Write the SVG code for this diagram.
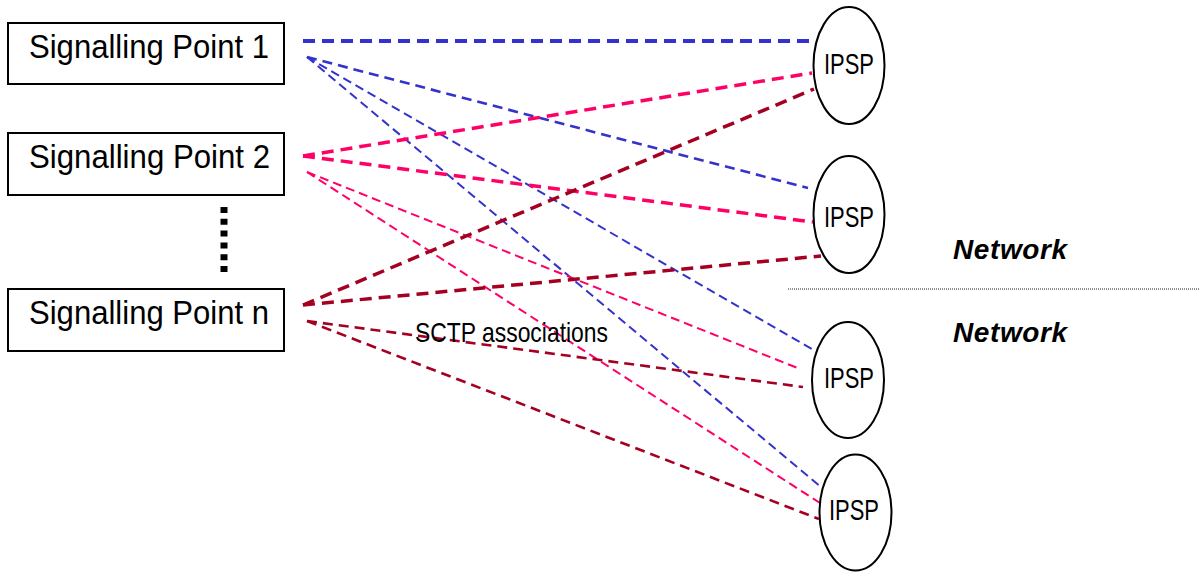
<svg xmlns="http://www.w3.org/2000/svg" width="1199" height="572" viewBox="0 0 1199 572">
<style>
.box{fill:#fff;stroke:#000;stroke-width:2}
.ell{fill:#fff;stroke:#000;stroke-width:2}
.lbl{font-family:"Liberation Sans",Arial,sans-serif;fill:#000}
.sp{font-size:33px}
.ip{font-size:29px}
.net{font-family:"Liberation Sans",Arial,sans-serif;font-size:28px;font-weight:bold;font-style:italic;letter-spacing:0.6px}
.c{fill:none}
.blue{stroke:#3333cc}
.pink{stroke:#ff0066}
.dred{stroke:#a50021}
.thick{stroke-width:3.5;stroke-dasharray:12 7}
.mid{stroke-width:2.6;stroke-dasharray:10 6}
.thin{stroke-width:2;stroke-dasharray:9 5}
</style>
<rect width="1199" height="572" fill="#fff"/>
<g id="connectors">
<line class="c blue thick" x1="303" y1="41" x2="814" y2="41" style="stroke-width:4"/>
<line class="c blue mid" x1="307" y1="57" x2="808" y2="188"/>
<line class="c blue thin" x1="307" y1="57" x2="817" y2="352"/>
<line class="c blue thin" x1="307" y1="57" x2="821" y2="487"/>
<line class="c pink thick" x1="303" y1="156" x2="812" y2="73"/>
<line class="c pink thick" x1="303" y1="156" x2="813" y2="222"/>
<line class="c pink thin" x1="307" y1="172" x2="800" y2="369"/>
<line class="c pink thin" x1="307" y1="172" x2="820" y2="503"/>
<line class="c dred thick" x1="303" y1="305" x2="814" y2="89"/>
<line class="c dred thick" x1="303" y1="305" x2="821" y2="256"/>
<line class="c dred mid" x1="307" y1="321" x2="803" y2="387"/>
<line class="c dred mid" x1="307" y1="321" x2="819" y2="519"/>
</g>
<g id="sp1">
<rect class="box" x="8" y="23" width="276" height="61"/>
<text class="lbl sp" x="29" y="57.5" textLength="240" lengthAdjust="spacingAndGlyphs">Signalling Point 1</text>
</g>
<g id="sp2">
<rect class="box" x="8" y="133" width="276" height="62"/>
<text class="lbl sp" x="29" y="167.5" textLength="241" lengthAdjust="spacingAndGlyphs">Signalling Point 2</text>
</g>
<g id="ellipsis">
<line x1="224" y1="207" x2="224" y2="272" stroke="#000" stroke-width="7" stroke-dasharray="6 5.8"/>
</g>
<g id="spn">
<rect class="box" x="8" y="289" width="276" height="62"/>
<text class="lbl sp" x="29" y="323.5" textLength="240" lengthAdjust="spacingAndGlyphs">Signalling Point n</text>
</g>
<g id="ipsp1">
<ellipse class="ell" cx="849" cy="65.5" rx="35.5" ry="58.5"/>
<text class="lbl ip" x="824" y="74" textLength="50" lengthAdjust="spacingAndGlyphs">IPSP</text>
</g>
<g id="ipsp2">
<ellipse class="ell" cx="849" cy="214.5" rx="35.5" ry="58.5"/>
<text class="lbl ip" x="824" y="227" textLength="50" lengthAdjust="spacingAndGlyphs">IPSP</text>
</g>
<g id="ipsp3">
<ellipse class="ell" cx="848" cy="380" rx="36" ry="58"/>
<text class="lbl ip" x="824" y="388" textLength="50" lengthAdjust="spacingAndGlyphs">IPSP</text>
</g>
<g id="ipsp4">
<ellipse class="ell" cx="855.5" cy="512.5" rx="36" ry="58"/>
<text class="lbl ip" x="829" y="520" textLength="50" lengthAdjust="spacingAndGlyphs">IPSP</text>
</g>
<g id="divider">
<line x1="788" y1="289" x2="1199" y2="289" stroke="#222" stroke-width="1" stroke-dasharray="1 1"/>
</g>
<g id="network-top">
<text class="net" x="953" y="259">Network</text>
</g>
<g id="network-bottom">
<text class="net" x="953" y="342">Network</text>
</g>
<g id="sctp-label">
<text class="lbl" x="415" y="342" font-size="28.5" textLength="193" lengthAdjust="spacingAndGlyphs">SCTP associations</text>
</g>
</svg>
